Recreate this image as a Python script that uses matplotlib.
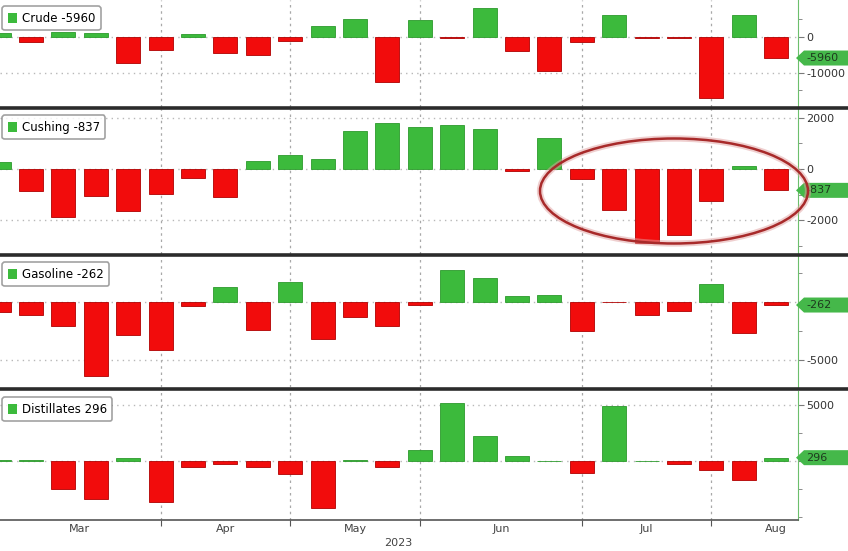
import matplotlib
matplotlib.use("Agg")
from matplotlib import pyplot as plt
from matplotlib.patches import Patch, Ellipse, Polygon
from matplotlib.lines import Line2D

# weekly changes (k bbl), weeks ending 24 Feb .. 11 Aug 2023
weeks = list(range(25))
crude = [1000, -1600, 1200, 1100, -7400, -3600, 600, -4600, -5000, -1300,
         3000, 5000, -12500, 4600, -450, 8000, -3900, -9700, -1500, 5900,
         -500, -400, -17200, 5900, -5960]
cushing = [290, -880, -1900, -1040, -1640, -970, -370, -1080, 330, 560,
           410, 1490, 1790, 1630, 1730, 1560, -80, 1230, -400, -1600,
           -2910, -2600, -1240, 130, -837]
gasoline = [-870, -1100, -2050, -6390, -2860, -4130, -320, 1270, -2400, 1700,
            -3180, -1330, -2050, -230, 2750, 2080, 490, 600, -2540, -40,
            -1100, -810, 1530, -2700, -262]
distillates = [60, 60, -2530, -3360, 240, -3630, -570, -300, -570, -1190,
               -4230, 60, -570, 980, 5150, 2200, 450, 40, -1070, 4950,
               30, -240, -830, -1730, 296]

month_labels = ["Mar", "Apr", "May", "Jun", "Jul", "Aug"]
month_label_pos = [2.5, 7, 11, 15.5, 20, 24]
month_ends = [5, 9, 13, 18, 22]
year_label = "2023"

GREEN = "#3cba3c"
RED = "#f20c0c"

plt.rcParams['font.family'] = ['Liberation Sans Narrow', 'DejaVu Sans']
plt.rcParams['axes.unicode_minus'] = False

W, H = 848, 551
fig = plt.figure(figsize=(W / 100, H / 100), dpi=100)


def px_rect(top, bottom):
    return [0, 1 - bottom / H, 798 / W, (bottom - top) / H]


def draw_panel(ax, name, values, ylim, major, labels, minor):
    colors = [GREEN if v >= 0 else RED for v in values]
    edges = ["#2c9a2c" if v >= 0 else "#b00000" for v in values]
    ax.bar(weeks, values, width=0.74, color=colors, edgecolor=edges,
           linewidth=0.6, zorder=2)
    ax.set_xlim(0.043, 24.67)
    ax.set_ylim(*ylim)
    ax.yaxis.tick_right()
    ax.set_yticks(major)
    ax.set_yticklabels(labels)
    ax.set_yticks(minor, minor=True)
    ax.tick_params(axis='y', which='both', colors='#7a7a7a', labelcolor='#333333',
                   labelsize=8, length=4, pad=2)
    ax.tick_params(axis='y', which='minor', length=3)
    ax.grid(axis='y', which='major', color='#b8b8b8', linestyle=(0, (1, 3)), lw=1)
    for m in month_ends:
        ax.axvline(m, color='#a8a8a8', linestyle=(0, (2, 3)), lw=0.9, zorder=1)
    for s in ['top', 'left', 'bottom']:
        ax.spines[s].set_visible(False)
    ax.spines['right'].set_color('#6cbf6c')
    ax.set_xticks([])

    last = values[-1]
    leg = ax.legend(handles=[Patch(facecolor=GREEN, edgecolor='none')],
                    labels=[f"{name} {last}"], loc='upper left',
                    bbox_to_anchor=(0.0, 1 - 4 / (ax.bbox.height)),
                    fontsize=8.5, handlelength=0.8, handleheight=0.9,
                    handletextpad=0.4, borderpad=0.45, borderaxespad=0.2,
                    frameon=True, fancybox=True)
    leg.get_frame().set_edgecolor('#8a8a8a')
    leg.get_frame().set_linewidth(1.2)

    # last-value tag on the right axis
    yf = ax.transData.transform((0, last))[1] / H
    hh = 7.5 / H
    tag = Polygon([(796 / W, yf), (804 / W, yf + hh), (1, yf + hh),
                   (1, yf - hh), (804 / W, yf - hh)], closed=True,
                  transform=fig.transFigure, fc='#45b84a', ec='none', zorder=9)
    fig.add_artist(tag)
    fig.text(806 / W, yf, f"{last}", ha='left', va='center', fontsize=8,
             color='#1e3a1e', zorder=10)


ax1 = fig.add_axes(px_rect(0, 107))
draw_panel(ax1, "Crude", crude, (-19600, 10200), [0, -10000], ["0", "-10000"],
           [5000, -5000, -15000])

ax2 = fig.add_axes(px_rect(109, 254))
draw_panel(ax2, "Cushing", cushing, (-3330, 2350), [2000, 0, -2000],
           ["2000", "0", "-2000"], [1000, -1000, -3000])

ax3 = fig.add_axes(px_rect(256, 387))
draw_panel(ax3, "Gasoline", gasoline, (-7370, 3990), [0, -5000], ["", "-5000"],
           [2500, -2500])

ax4 = fig.add_axes(px_rect(391, 520))
draw_panel(ax4, "Distillates", distillates, (-5270, 6250), [5000, 0], ["5000", ""],
           [2500, -2500, -5000])

# bottom date axis
ax4.spines['bottom'].set_visible(True)
ax4.spines['bottom'].set_color('#555555')
ax4.spines['bottom'].set_linewidth(1.2)
ax4.set_xticks(month_ends)
ax4.set_xticklabels([])
ax4.set_xticks(month_label_pos, minor=True)
ax4.set_xticklabels(month_labels, minor=True)
ax4.tick_params(axis='x', which='major', length=4, color='#555555')
ax4.tick_params(axis='x', which='minor', length=0, labelsize=8,
                labelcolor='#444444', pad=3)
fig.text(398 / W, 1 - 543 / H, year_label, ha='center', va='center',
         fontsize=8, color='#444444')

# panel separators
for y in [108, 255, 389]:
    fig.add_artist(Line2D([0, 1], [1 - y / H, 1 - y / H], transform=fig.transFigure,
                          color='#2b2b2b', lw=2.6))

# highlight ring around the recent Cushing draws
fig.add_artist(Ellipse((674 / W, 1 - 191 / H), 268 / W, 105 / H,
                       transform=fig.transFigure, fill=False,
                       ec='#e0a0a0', lw=4.5, alpha=0.5, zorder=11))
fig.add_artist(Ellipse((674 / W, 1 - 191 / H), 268 / W, 105 / H,
                       transform=fig.transFigure, fill=False,
                       ec='#a82a2a', lw=1.8, zorder=12))

fig.savefig("out.png", dpi=100)
